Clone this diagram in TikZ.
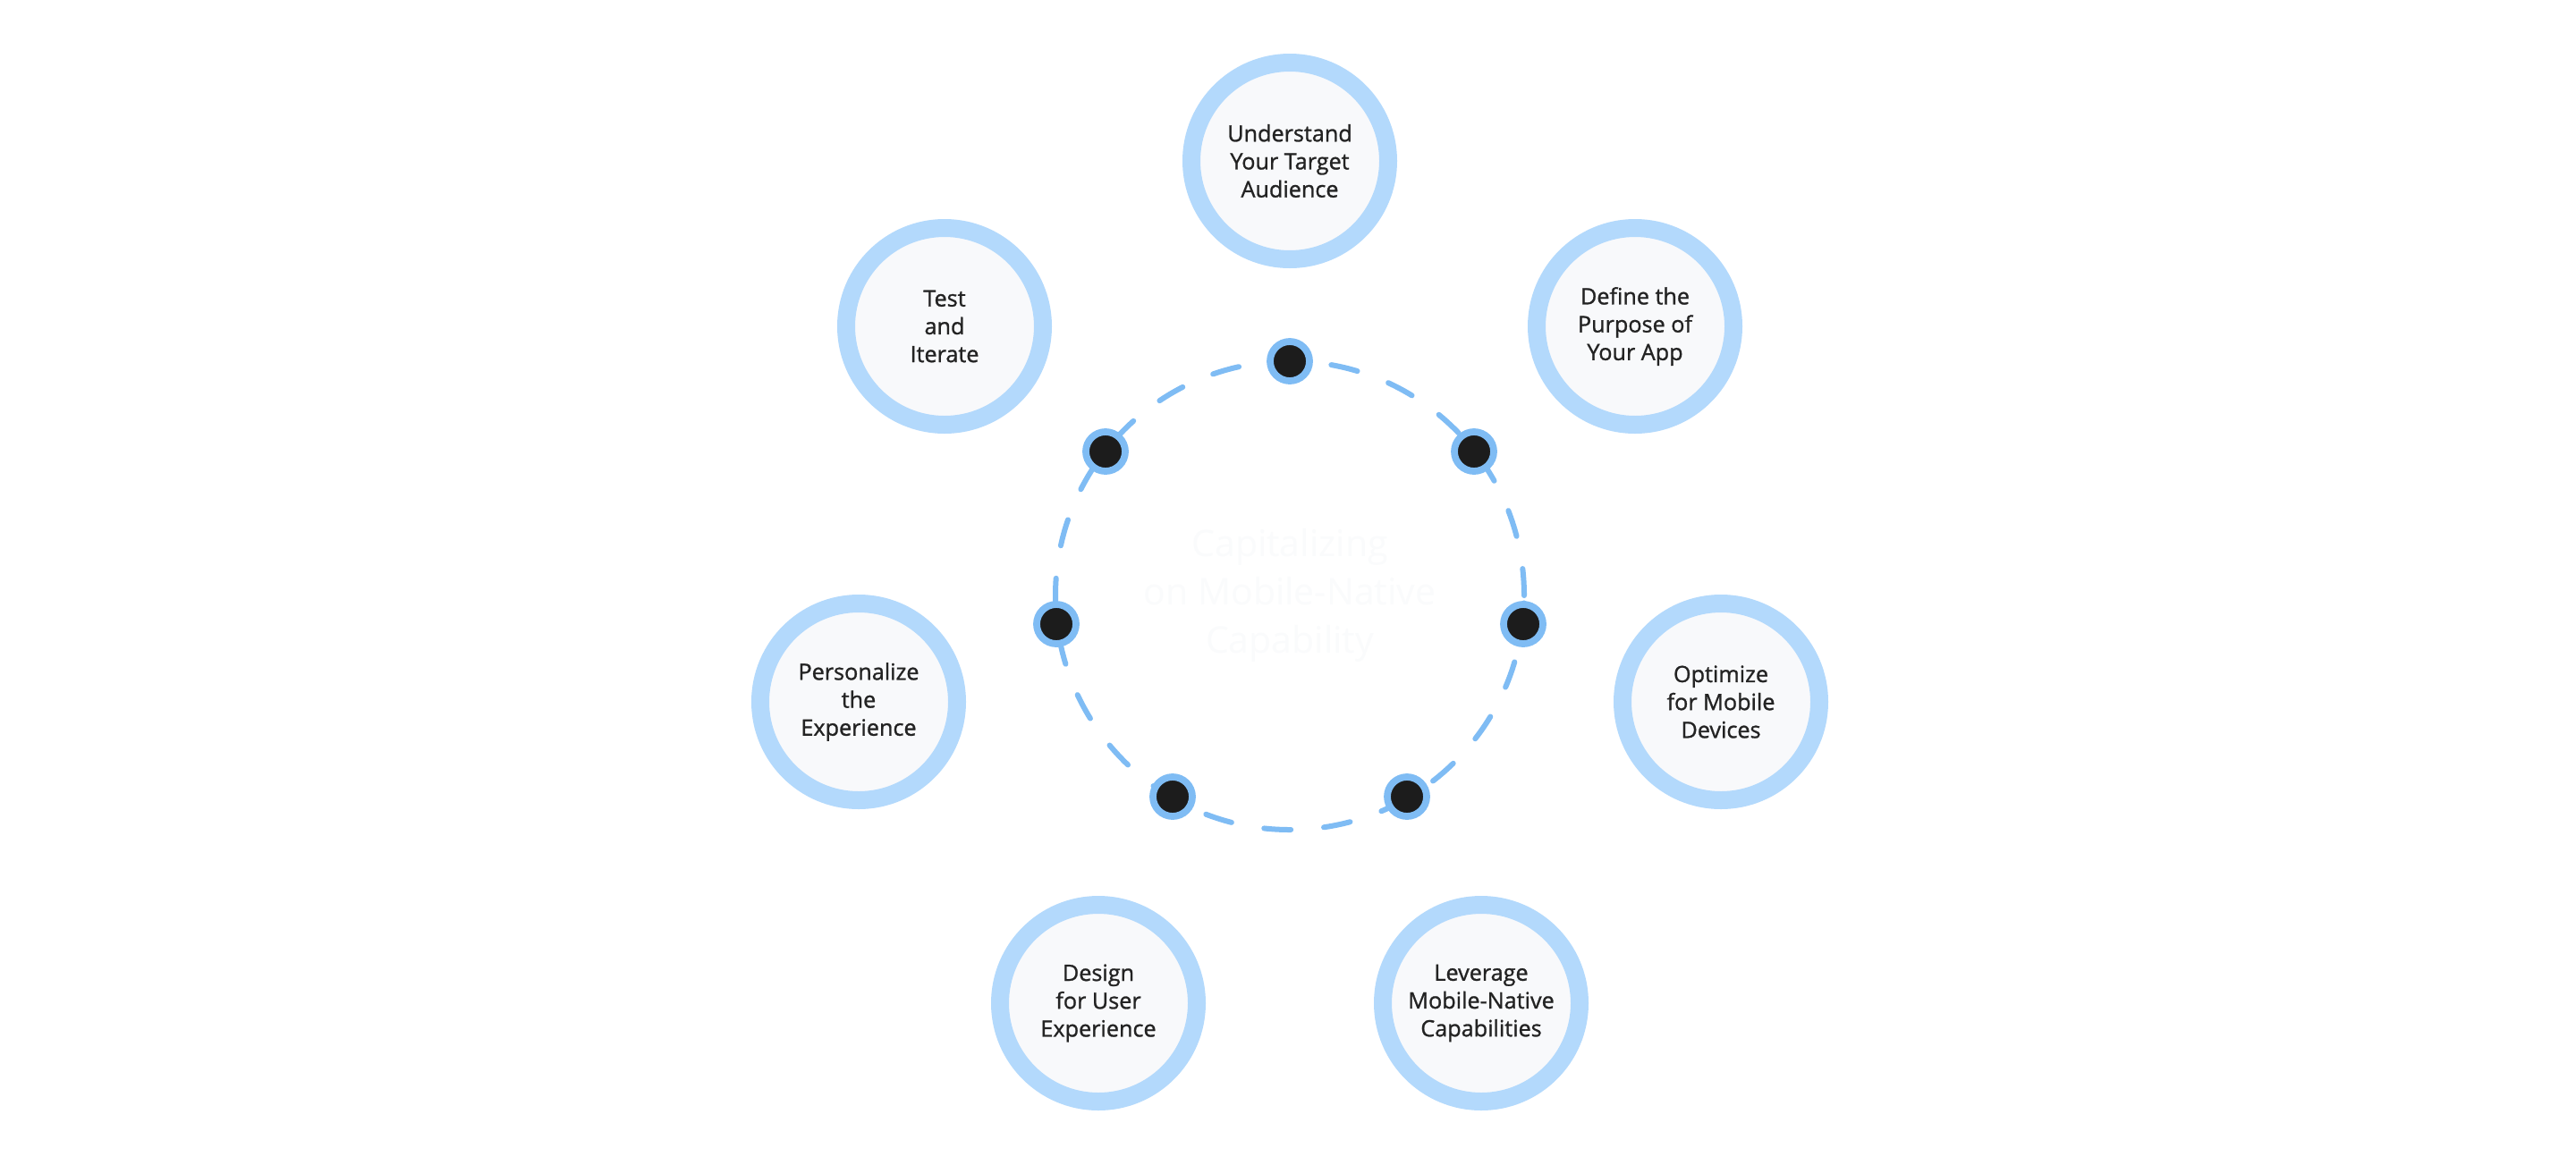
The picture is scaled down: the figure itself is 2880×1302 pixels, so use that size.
\documentclass[tikz,border=0pt]{standalone}
\usepackage{fontspec}
\setmainfont{Open Sans}
\newfontfamily\stepfont{Open Sans}[FakeBold=1.1]

\definecolor{ringblue}{HTML}{B3D9FC}
\definecolor{dashblue}{HTML}{7FBCF4}
\definecolor{stepfill}{HTML}{F8F9FB}
\definecolor{dotblack}{HTML}{1C1C1C}
\definecolor{steptext}{HTML}{232323}
\definecolor{hubtext}{HTML}{FAFBFC}

\tikzset{
    stepcircle/.style={circle, draw=ringblue, line width=10pt, fill=stepfill,
        minimum size=110pt, inner sep=0pt, align=center, text=steptext,
        font=\stepfont\fontsize{12.6}{15.6}\selectfont},
    stepdot/.style={circle, draw=dashblue, line width=3.9pt, fill=dotblack,
        minimum size=22pt, inner sep=0pt},
    ringline/.style={draw=dashblue, line width=3pt, line cap=round,
        dash pattern=on 15pt off 18.5pt},
    hublabel/.style={align=center, text=hubtext,
        font=\fontsize{20.5}{27}\selectfont}
}

\begin{document}
\begin{tikzpicture}[x=0.5pt, y=-0.5pt]

    \useasboundingbox (0,0) rectangle (2880,1302);
    \path [fill=white] (0,0) rectangle (2880,1302);

    %-----Hub-----
    \coordinate (hub) at (1442,666);

    % Hub Label
    \node [hublabel] (hubtitle) at (hub) {%
        Capitalizing \\
        on Mobile-Native \\
        Capability
    };

    % Dashed Ring
    \draw [ringline] (hub) circle [radius=131pt];

    %-----Steps-----
    % Understand Step
    \node [stepcircle] (understand) at (1442,180) {%
        Understand \\
        Your Target \\
        Audience
    };

    % Define Step
    \node [stepcircle] (define) at (1828,365) {%
        Define the \\
        Purpose of \\
        Your App
    };

    % Optimize Step
    \node [stepcircle] (optimize) at (1924,785) {%
        Optimize \\
        for Mobile \\
        Devices
    };

    % Leverage Step
    \node [stepcircle] (leverage) at (1656,1122) {%
        Leverage \\
        Mobile-Native \\
        Capabilities
    };

    % Design Step
    \node [stepcircle] (design) at (1228,1122) {%
        Design \\
        for User \\
        Experience
    };

    % Personalize Step
    \node [stepcircle] (personalize) at (960,785) {%
        Personalize \\
        the \\
        Experience
    };

    % Iterate Step
    \node [stepcircle] (iterate) at (1056,365) {%
        Test \\
        and \\
        Iterate
    };

    %-----Dots on Ring-----
    \node [stepdot] (dotunderstand) at (1442,404) {};
    \node [stepdot] (dotdefine) at (1648,505) {};
    \node [stepdot] (dotoptimize) at (1703,698) {};
    \node [stepdot] (dotleverage) at (1573,891) {};
    \node [stepdot] (dotdesign) at (1311,891) {};
    \node [stepdot] (dotpersonalize) at (1181,698) {};
    \node [stepdot] (dotiterate) at (1236,505) {};

\end{tikzpicture}
\end{document}
